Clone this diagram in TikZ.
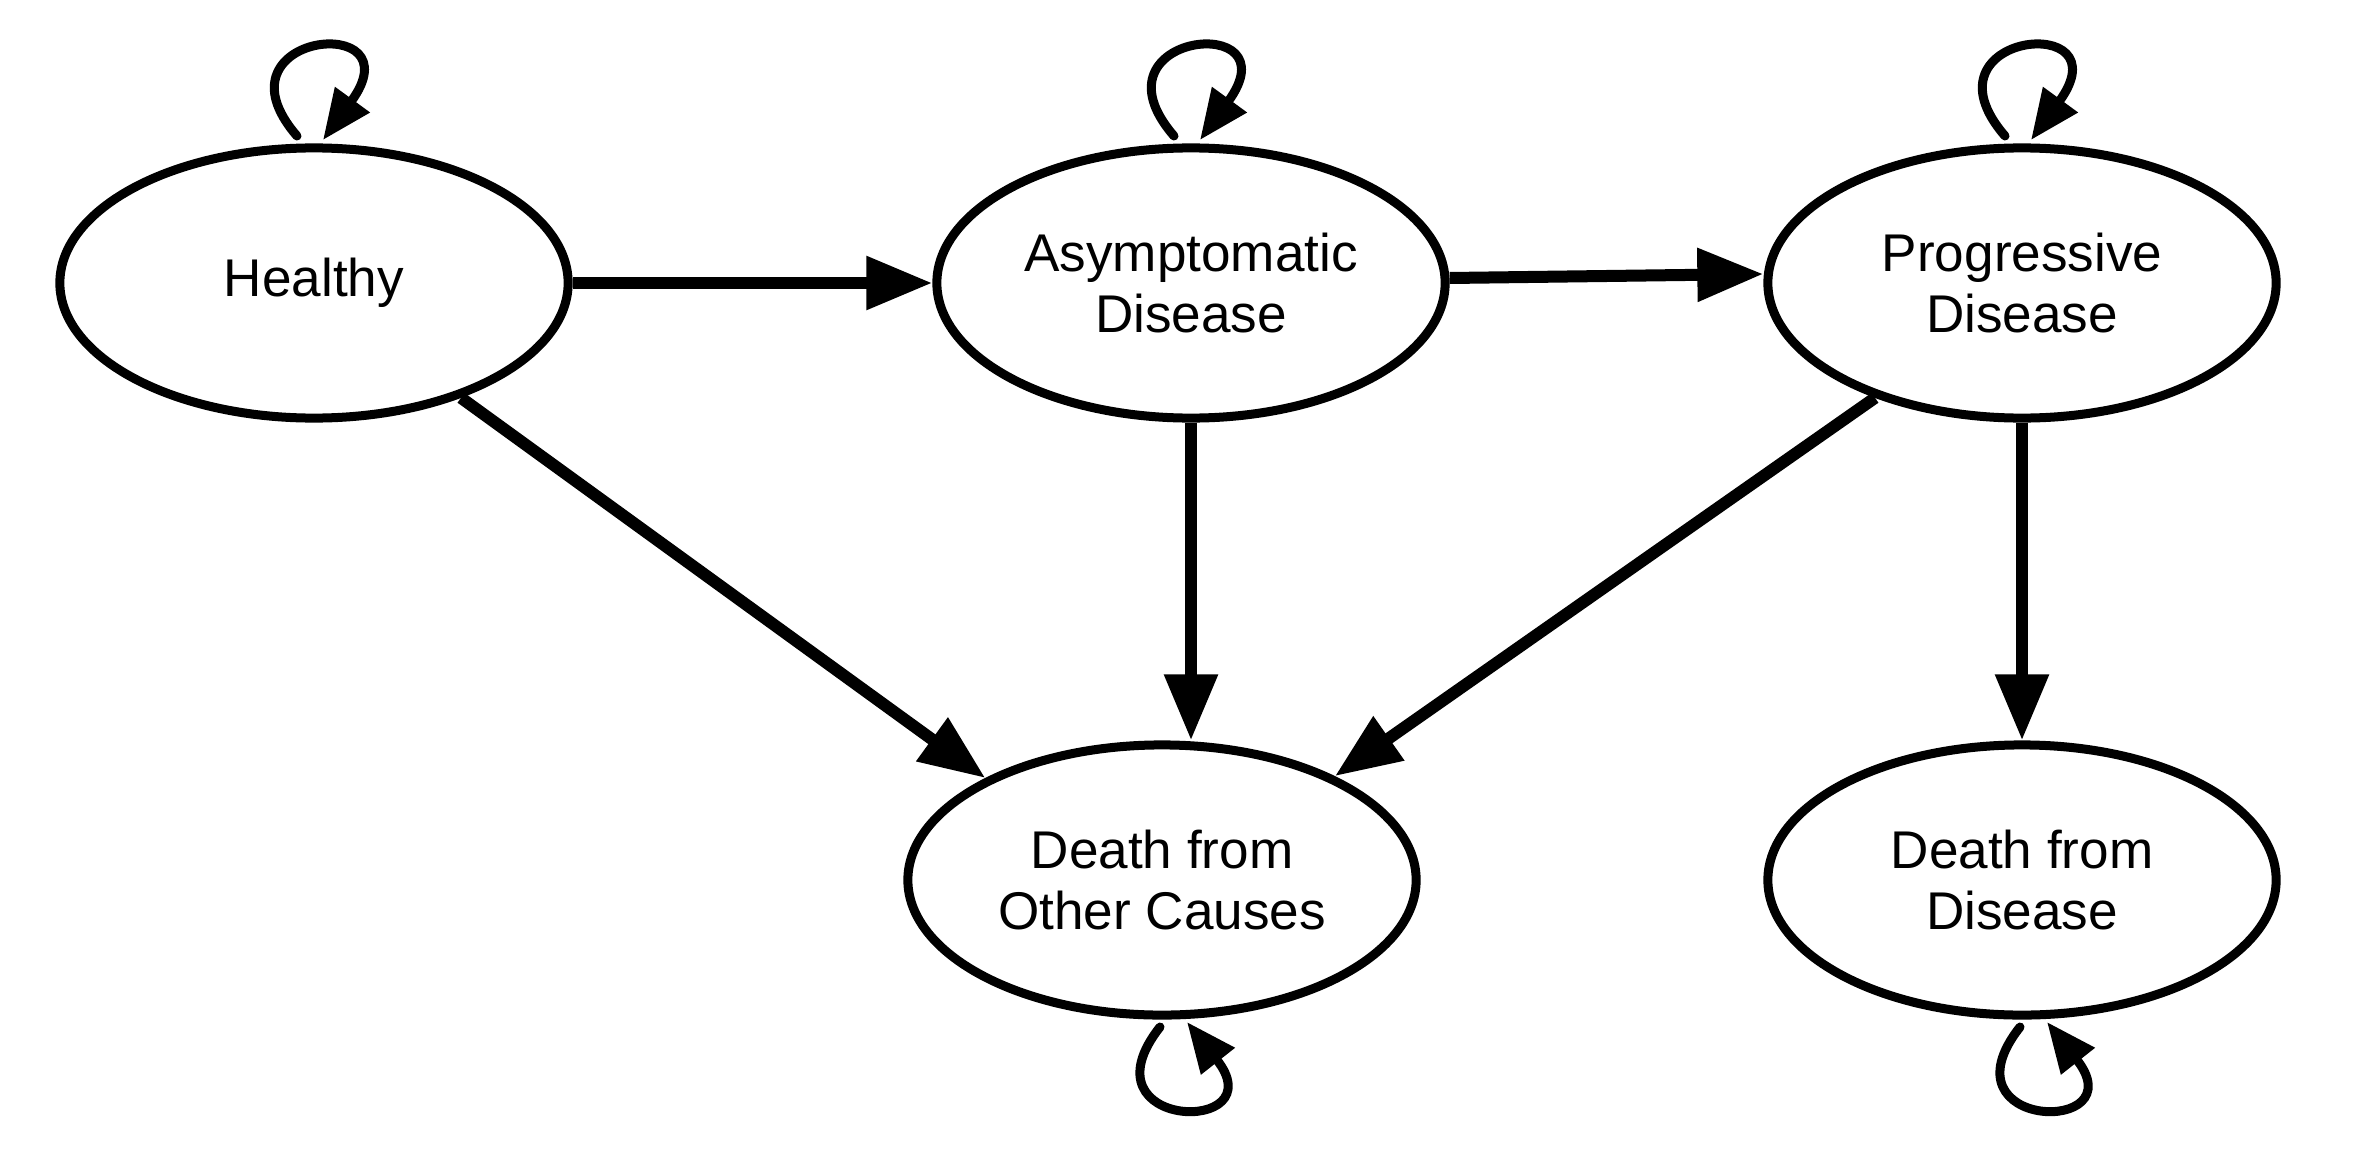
\documentclass[tikz,border=0pt]{standalone}
\usepackage{fontspec}
\setmainfont{Liberation Sans}
\usetikzlibrary{arrows.meta,shapes.geometric,calc}
\begin{document}
\begin{tikzpicture}[x=0.01cm,y=-0.01cm,
  state/.style={ellipse,draw,line width=0.09cm,minimum width=5.08cm,minimum height=2.70cm,
    align=center,font=\fontsize{15.1pt}{17.3pt}\selectfont,inner sep=0pt},
  edge/.style={line width=0.12cm,-{Triangle[length=0.66cm,width=0.51cm]}},
  selfloop/.style={line width=0.09cm,line cap=round,-{Triangle[length=0.5cm,width=0.41cm]}}]
\useasboundingbox (0,0) rectangle (2358,1176);
\node[state] (H) at (314,283) {Healthy};
\node[state] (A) at (1191,283) {Asymptomatic\\Disease};
\node[state] (P) at (2022,283) {Progressive\\Disease};
\node[state] (DO) at (1162,880) {Death from\\Other Causes};
\node[state] (DD) at (2022,880) {Death from\\Disease};
% transitions
\draw[edge] (H) -- (A);
\draw[edge] ($(A.east)+(0,-5)$) -- ($(P.west)+(0,-9)$);
\draw[edge] (H.-38) -- (DO.150);
\draw[edge] (A.south) -- (A.south |- DO.north);
\draw[edge] (P.-142) -- (DO.31);
\draw[edge] (P) -- (DD);
% self loops
\foreach \n in {H,A,P}{
  \draw[selfloop] ($(\n)+(-17,-147)$) .. controls +(-90,-104) and +(95,-130) .. ($(\n)+(9,-143)$);
}
\foreach \n in {DO,DD}{
  \draw[selfloop] ($(\n)+(-2,147)$) .. controls +(-82,104) and +(90,114) .. ($(\n)+(25,142)$);
}
\end{tikzpicture}
\end{document}
